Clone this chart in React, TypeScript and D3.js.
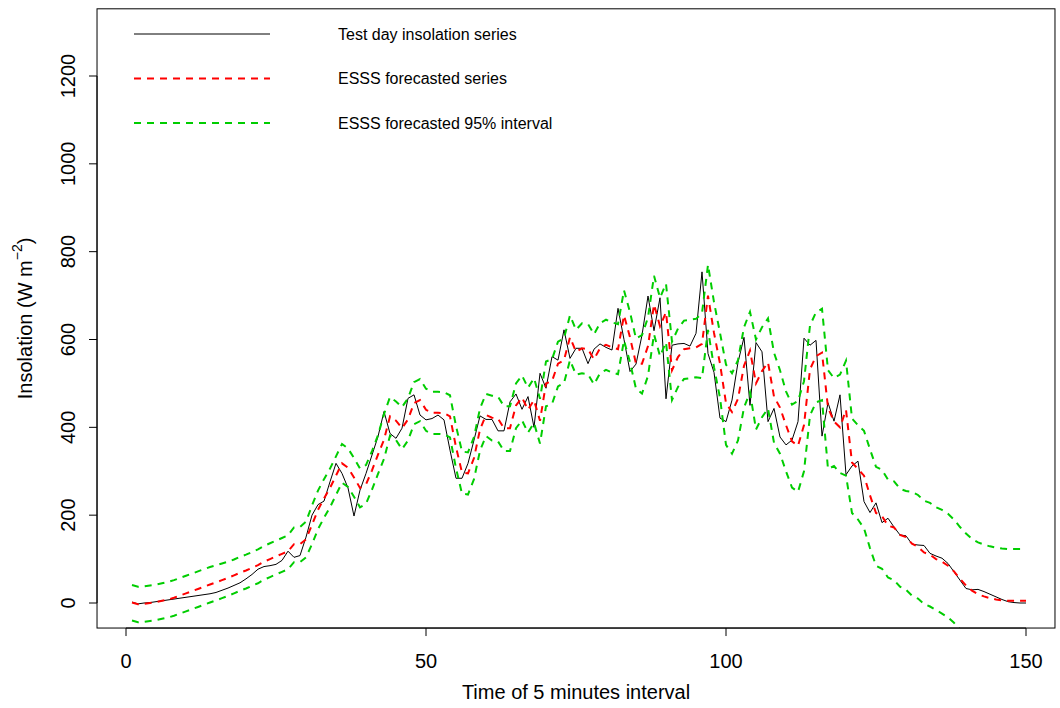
import React from 'react';
import * as d3 from 'd3';

// test day, 5-minute steps 1..150
const observed = [
  2, -2, 0, 1, 3, 5, 7, 9, 11, 13,
  15, 17, 19, 21, 24, 29, 34, 40, 46, 55,
  65, 77, 83, 85, 88, 97, 118, 104, 108, 150,
  200, 224, 232, 276, 318, 295, 262, 198, 257, 295,
  337, 379, 436, 386, 375, 398, 466, 474, 428, 417,
  420, 428, 417, 348, 284, 284, 318, 371, 426, 418,
  418, 392, 392, 458, 476, 441, 470, 400, 523, 489,
  561, 553, 622, 557, 580, 580, 545, 578, 590, 582,
  576, 671, 600, 527, 544, 610, 699, 620, 695, 465,
  587, 590, 591, 585, 614, 754, 568, 525, 421, 413,
  462, 548, 605, 450, 593, 572, 413, 443, 378, 360,
  371, 413, 603, 587, 598, 380, 456, 414, 474, 292,
  312, 323, 231, 206, 228, 183, 193, 173, 155, 153,
  134, 132, 131, 113, 107, 102, 90, 71, 52, 33,
  30, 31, 26, 20, 14, 8, 3, 1, 0, 0,
];

const forecast = [
  1, -3, -2, 0, 2, 5, 8, 12, 17, 22,
  27, 32, 37, 42, 47, 52, 57, 63, 69, 74,
  80, 86, 94, 100, 106, 112, 118, 134, 134, 145,
  178, 212, 238, 262, 290, 318, 308, 286, 262, 270,
  302, 338, 372, 425, 415, 398, 418, 455, 462, 440,
  433, 433, 432, 425, 355, 297, 295, 330, 395, 428,
  422, 420, 398, 398, 450, 468, 440, 462, 415, 500,
  505, 545, 553, 605, 572, 580, 578, 555, 580, 588,
  582, 578, 655, 605, 545, 545, 585, 680, 630, 662,
  530, 560, 578, 580, 582, 590, 700, 615, 545, 455,
  435, 465, 540, 575, 500, 528, 548, 470, 445, 405,
  368, 358, 405, 532, 562, 570, 445, 413, 400, 440,
  320, 305, 290, 245, 205, 198, 176, 172, 155, 150,
  135, 128, 115, 110, 100, 94, 85, 72, 55, 40,
  28, 20, 15, 11, 8, 6, 5, 5, 5, 5,
];

const upper95 = [
  41, 37, 38, 40, 42, 45, 48, 52, 57, 62,
  67, 72, 77, 82, 86, 90, 94, 99, 105, 110,
  116, 122, 130, 136, 142, 148, 154, 172, 173, 185,
  222, 256, 282, 306, 334, 362, 352, 330, 306, 314,
  346, 382, 430, 469, 459, 446, 466, 503, 510, 488,
  481, 481, 480, 473, 403, 345, 343, 378, 443, 476,
  472, 470, 448, 448, 500, 518, 490, 512, 465, 550,
  555, 595, 603, 655, 622, 637, 635, 612, 637, 645,
  639, 635, 712, 662, 602, 610, 650, 745, 695, 727,
  595, 625, 643, 645, 647, 660, 770, 685, 615, 543,
  523, 553, 628, 663, 600, 628, 648, 570, 530, 482,
  452, 460, 505, 632, 662, 670, 530, 512, 520, 552,
  420, 405, 392, 350, 310, 303, 281, 277, 260, 255,
  253, 246, 233, 228, 218, 212, 203, 190, 173, 158,
  146, 138, 133, 129, 126, 124, 123, 123, 123, 123,
];

const lower95 = [
  -40, -44, -43, -41, -39, -36, -33, -29, -24, -19,
  -14, -9, -4, 1, 6, 11, 16, 22, 28, 33,
  39, 45, 53, 59, 65, 71, 77, 93, 93, 104,
  134, 168, 194, 218, 246, 274, 264, 242, 218, 226,
  258, 294, 328, 381, 371, 350, 370, 407, 414, 392,
  385, 385, 384, 377, 307, 249, 247, 282, 347, 380,
  370, 368, 346, 346, 398, 416, 388, 410, 363, 448,
  453, 493, 501, 553, 520, 523, 521, 498, 523, 531,
  525, 521, 598, 548, 488, 477, 517, 612, 562, 594,
  462, 492, 510, 512, 514, 512, 622, 537, 467, 360,
  340, 370, 445, 480, 395, 423, 443, 365, 340, 300,
  263, 253, 300, 427, 457, 462, 305, 312, 296, 290,
  205, 190, 170, 125, 85, 78, 58, 52, 37, 30,
  17, 10, -2, -8, -16, -24, -33, -45, -60, -78,
  -92, -100, -106, -110, -113, -115, -116, -117, -117, -117,
];

const xTicks = [0, 50, 100, 150];
const yTicks = [0, 200, 400, 600, 800, 1000, 1200];

const legendLabels = [
  'Test day insolation series',
  'ESSS forecasted series',
  'ESSS forecasted 95% interval',
];

const FONT = '"Liberation Sans", Arial, Helvetica, sans-serif';
const GREEN = '#00CD00';
const DASH = '7 6';

export default function App() {
  const x = d3.scaleLinear().domain([0, 150]).range([126, 1026]);
  const y = d3.scaleLinear().domain([0, 1200]).range([603, 76]);

  // R style extended user limits
  const left = x(-4.83);
  const right = x(154.83);
  const top = y(1353);
  const bottom = y(-57);

  const path = (vals: number[]) =>
    d3.line<number>()
      .x((d, i) => x(i + 1))
      .y(d => y(d))(vals) || '';

  const legendStyles = [
    { stroke: '#000', width: 1, dash: undefined },
    { stroke: '#FF0000', width: 2, dash: DASH },
    { stroke: GREEN, width: 2, dash: DASH },
  ];

  return (
    <svg width={1060} height={708} style={{ position: 'absolute', left: 0, top: 0, background: '#fff' }}
      fontFamily={FONT}>
      <defs>
        <clipPath id="plotclip">
          <rect x={left} y={top} width={right - left} height={bottom - top} />
        </clipPath>
      </defs>

      <g clipPath="url(#plotclip)" fill="none">
        <path d={path(observed)} stroke="#000" strokeWidth={1} />
        <path d={path(forecast)} stroke="#FF0000" strokeWidth={2} strokeDasharray={DASH} />
        <path d={path(upper95)} stroke={GREEN} strokeWidth={2} strokeDasharray={DASH} />
        <path d={path(lower95)} stroke={GREEN} strokeWidth={2} strokeDasharray={DASH} />
      </g>

      <rect x={left} y={top} width={right - left} height={bottom - top}
        fill="none" stroke="#000" strokeWidth={1} />

      {/* x axis */}
      <g>
        <line x1={x(0)} x2={x(150)} y1={bottom} y2={bottom} stroke="#000" />
        {xTicks.map(t => (
          <g key={t}>
            <line x1={x(t)} x2={x(t)} y1={bottom} y2={bottom + 8} stroke="#000" />
            <text x={x(t)} y={bottom + 33} textAnchor="middle" dominantBaseline="central"
              fontSize={20}>{t}</text>
          </g>
        ))}
        <text x={(left + right) / 2} y={692} textAnchor="middle" dominantBaseline="central"
          fontSize={20}>Time of 5 minutes interval</text>
      </g>

      {/* y axis */}
      <g>
        <line x1={left} x2={left} y1={y(0)} y2={y(1200)} stroke="#000" />
        {yTicks.map(t => (
          <g key={t}>
            <line x1={left - 8} x2={left} y1={y(t)} y2={y(t)} stroke="#000" />
            <text transform={`translate(${left - 29},${y(t)}) rotate(-90)`} textAnchor="middle"
              dominantBaseline="central" fontSize={20}>{t}</text>
          </g>
        ))}
        <text transform={`translate(25,${(top + bottom) / 2}) rotate(-90)`} textAnchor="middle"
          dominantBaseline="central" fontSize={20}>
          Insolation  (W m<tspan dy={-8} fontSize={14}>−2</tspan><tspan dy={8}>)</tspan>
        </text>
      </g>

      {/* legend */}
      <g>
        {legendLabels.map((lab, i) => {
          const ly = 34 + i * 44.5;
          const s = legendStyles[i];
          return (
            <g key={lab}>
              <line x1={134} x2={270} y1={ly} y2={ly} stroke={s.stroke}
                strokeWidth={s.width} strokeDasharray={s.dash} />
              <text x={338} y={ly} dominantBaseline="central" fontSize={16}>{lab}</text>
            </g>
          );
        })}
      </g>
    </svg>
  );
}
